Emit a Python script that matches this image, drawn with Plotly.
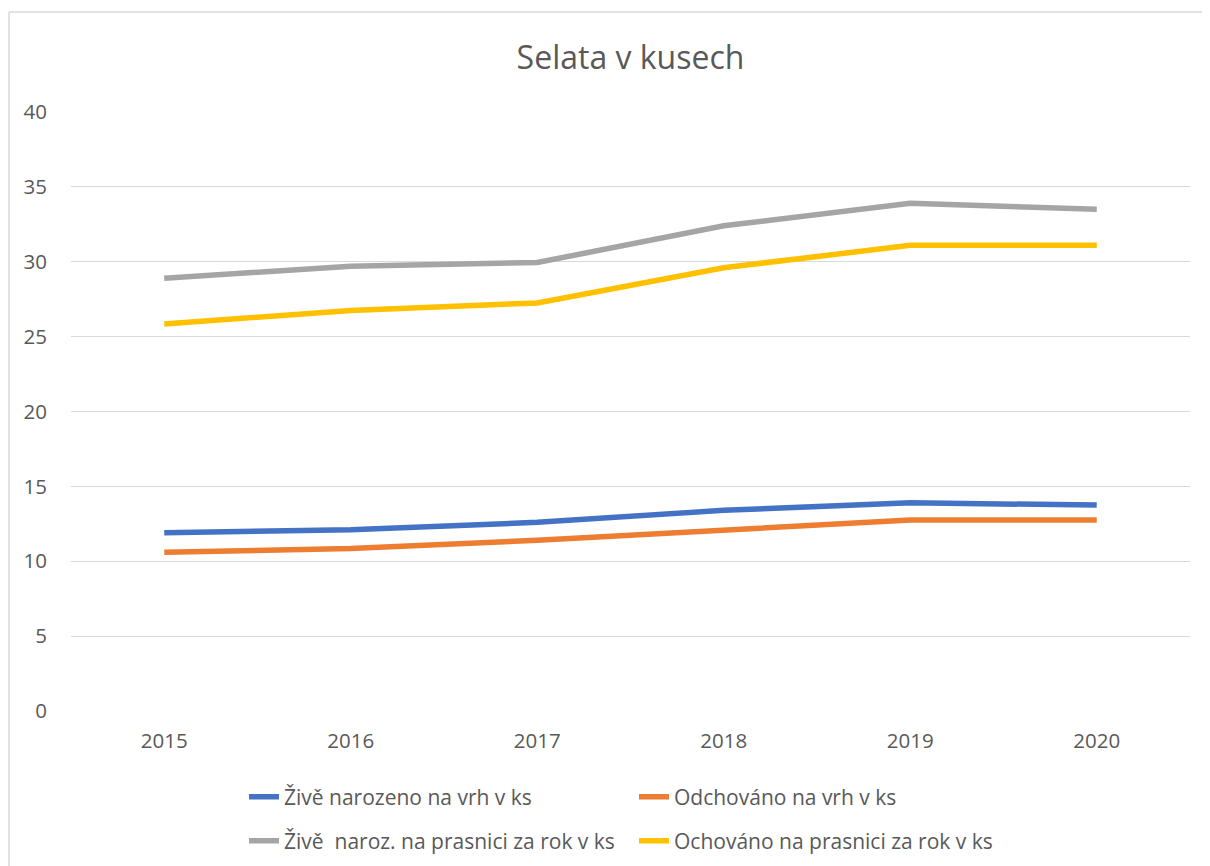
import plotly.graph_objects as go

years = ["2015", "2016", "2017", "2018", "2019", "2020"]
zive_vrh = [11.9, 12.1, 12.6, 13.4, 13.9, 13.75]
odchovano_vrh = [10.6, 10.85, 11.4, 12.1, 12.75, 12.75]
zive_prasnice = [28.9, 29.7, 29.95, 32.4, 33.9, 33.5]
ochovano_prasnice = [25.85, 26.75, 27.25, 29.6, 31.1, 31.1]

names = [
    "Živě narozeno na vrh v ks",
    "Odchováno na vrh v ks",
    "Živě  naroz. na prasnici za rok v ks",
    "Ochováno na prasnici za rok v ks",
]
colors = ["#4472C4", "#ED7D31", "#A5A5A5", "#FFC000"]
series = [zive_vrh, odchovano_vrh, zive_prasnice, ochovano_prasnice]
legend_ids = ["legend", "legend", "legend2", "legend2"]

# page body margin offset (browser default 8px)
OFF = 8
# figure is taller than the viewport so that the legends never push the margins
W, H = 1210 - OFF, 900
# plot area in page pixels: x 71..1190, y 112..711
L = 71 - OFF
R = W - (1190 - OFF)
T = 112 - OFF
B = H - (711 - OFF)
pw, ph = W - L - R, H - T - B

def px_x(x):
    """page x pixel -> paper coordinate"""
    return (x - OFF - L) / pw

def px_y(y):
    """page y pixel -> paper coordinate"""
    return (H - B - (y - OFF)) / ph

fig = go.Figure()
for nm, col, vals, lg in zip(names, colors, series, legend_ids):
    fig.add_trace(go.Scatter(
        x=years, y=vals, name=nm, mode="lines",
        line=dict(color=col, width=5.5),
        legend=lg,
    ))

font_col = "#595959"
fam = "Open Sans, sans-serif"

legend_common = dict(
    orientation="h",
    xanchor="left",
    yanchor="middle",
    font=dict(family=fam, size=21, color=font_col),
    bgcolor="rgba(0,0,0,0)",
    entrywidthmode="pixels",
    entrywidth=345,
    itemwidth=30,
    tracegroupgap=0,
)

fig.update_layout(
    width=W, height=H,
    margin=dict(l=L, r=R, t=T, b=B),
    paper_bgcolor="white",
    plot_bgcolor="white",
    title=dict(
        text="Selata v kusech",
        x=0.5, xref="paper", xanchor="center",
        y=1 - (58 - OFF) / H, yanchor="middle",
        font=dict(family=fam, size=32, color=font_col),
    ),
    xaxis=dict(
        type="category",
        range=[-0.5, 5.5],
        showgrid=False, showline=False, zeroline=False,
        ticks="",
        tickfont=dict(family=fam, size=20.5, color=font_col),
        ticklabelstandoff=15,
    ),
    yaxis=dict(
        range=[0, 40],
        dtick=5,
        showgrid=True, gridcolor="#D9D9D9", gridwidth=1.3,
        showline=False, zeroline=False,
        ticks="",
        tickfont=dict(family=fam, size=20.5, color=font_col),
        ticklabelstandoff=23,
    ),
    legend=dict(x=px_x(244), y=px_y(797), **legend_common),
    legend2=dict(x=px_x(244), y=px_y(841), **legend_common),
    showlegend=True,
    shapes=[
        dict(type="line", xref="paper", yref="paper",
             x0=px_x(9), x1=px_x(9), y0=px_y(12), y1=px_y(950),
             line=dict(color="#D9D9D9", width=1.5)),
        dict(type="line", xref="paper", yref="paper",
             x0=px_x(9), x1=px_x(1250), y0=px_y(12), y1=px_y(12),
             line=dict(color="#D9D9D9", width=1.5)),
    ],
)

fig.write_html("out.html")
